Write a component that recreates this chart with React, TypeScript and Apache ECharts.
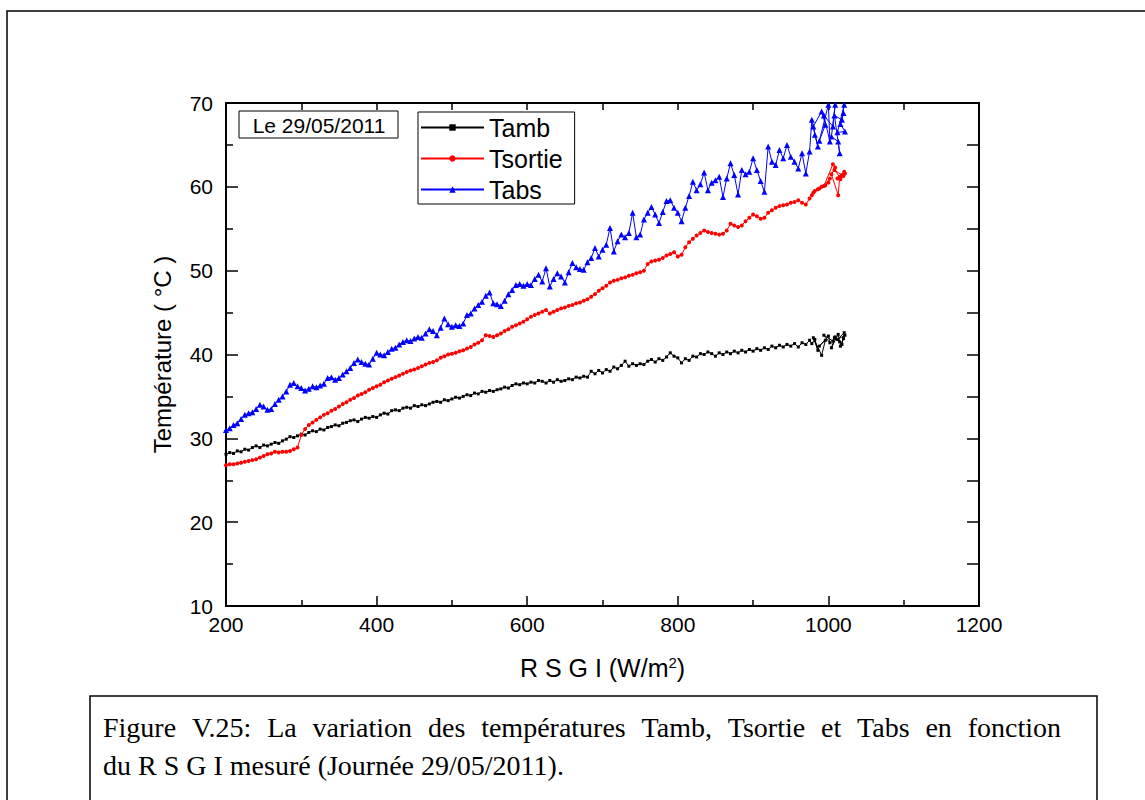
import React, { useEffect, useRef } from "react";
import * as echarts from "echarts";

// Measured global irradiance R S G I (W/m²) — shared x values
const rsgi = [
  200, 205, 210, 215, 220, 225, 230, 235, 240, 245,
  250, 255, 260, 265, 270, 275, 280, 285, 290, 295,
  300, 305, 310, 315, 320, 325, 330, 335, 340, 345,
  350, 355, 360, 365, 370, 375, 380, 385, 390, 395,
  400, 405, 410, 415, 420, 425, 430, 435, 440, 445,
  450, 455, 460, 465, 470, 475, 480, 485, 490, 495,
  500, 505, 510, 515, 520, 525, 530, 535, 540, 545,
  550, 555, 560, 565, 570, 575, 580, 585, 590, 595,
  600, 605, 610, 615, 620, 625, 630, 635, 640, 645,
  650, 655, 660, 665, 670, 675, 680, 685, 690, 695,
  700, 705, 710, 715, 720, 725, 730, 735, 740, 745,
  750, 755, 760, 765, 770, 775, 780, 785, 790, 795,
  800, 805, 810, 815, 820, 825, 830, 835, 840, 845,
  850, 855, 860, 865, 870, 875, 880, 885, 890, 895,
  900, 905, 910, 915, 920, 925, 930, 935, 940, 945,
  950, 955, 960, 965, 970, 975,
  978, 982, 986, 980, 991, 996, 988, 1000, 1002, 994, 1006,
  1009, 1004, 1013, 1015, 1008, 1018, 1021, 1012, 1022, 1016, 1020,
];

const tamb = [
  28.1, 28.3, 28.2, 28.5, 28.4, 28.7, 28.6, 28.9, 29.1, 28.9,
  29.2, 29.1, 29.3, 29.5, 29.4, 29.7, 29.9, 30.2, 30.1, 30.3,
  30.5, 30.4, 30.7, 30.9, 30.8, 31.1, 31.0, 31.3, 31.4, 31.6,
  31.5, 31.8, 31.9, 32.1, 32.2, 32.0, 32.3, 32.5, 32.4, 32.6,
  32.5, 32.8, 33.0, 32.9, 33.3, 33.4, 33.3, 33.6, 33.7, 33.6,
  33.9, 33.8, 34.0, 33.9, 34.1, 34.3, 34.4, 34.3, 34.6, 34.5,
  34.7, 34.9, 34.8, 35.0, 35.2, 35.1, 35.4, 35.3, 35.6, 35.5,
  35.7, 35.6, 35.8, 35.9, 36.1, 36.0, 36.3, 36.5, 36.4, 36.6,
  36.5, 36.7, 36.6, 36.9, 36.8, 36.6, 36.9, 36.7, 37.0, 36.8,
  36.9, 37.1, 37.0, 37.3, 37.2, 37.4, 37.3, 38.0, 37.7, 38.1,
  37.8, 38.2, 38.0, 38.5, 38.3, 38.7, 39.2, 38.6, 38.9, 38.7,
  38.9, 38.8, 39.2, 39.4, 39.1, 39.5, 39.3, 39.7, 40.2, 39.8,
  39.6, 39.0, 39.5, 39.3, 39.8, 39.7, 40.1, 40.0, 40.3, 40.1,
  39.8, 40.2, 40.0, 40.3, 40.1, 40.4, 40.2, 40.5, 40.3, 40.6,
  40.4, 40.7, 40.5, 40.8, 40.6, 41.0, 40.8, 41.1, 40.9, 41.2,
  41.0, 41.3, 40.9, 41.4, 41.2, 41.7,
  41.3, 41.8, 40.5, 42.0, 39.9, 41.7, 41.0, 42.2, 41.4, 42.3, 41.6,
  42.1, 40.8, 42.4, 41.5, 42.0, 41.2, 42.6, 41.8, 42.3, 41.0, 41.9,
];

const tsortie = [
  26.8, 26.9, 26.9, 27.0, 27.1, 27.2, 27.3, 27.4, 27.5, 27.7,
  27.9, 28.1, 28.2, 28.4, 28.3, 28.4, 28.4, 28.5, 28.7, 28.9,
  30.4, 31.1, 31.6, 31.9, 32.2, 32.5, 32.8, 33.0, 33.3, 33.5,
  33.8, 34.1, 34.3, 34.6, 34.8, 35.1, 35.3, 35.5, 35.8, 36.0,
  36.2, 36.4, 36.7, 36.9, 37.1, 37.3, 37.5, 37.7, 37.9, 38.1,
  38.2, 38.4, 38.6, 38.8, 39.0, 39.1, 39.3, 39.6, 39.8, 40.0,
  40.1, 40.2, 40.4, 40.5, 40.7, 40.9, 41.2, 41.4, 41.7, 42.3,
  42.2, 42.1, 42.3, 42.5, 42.8, 43.0, 43.3, 43.5, 43.7, 43.9,
  44.2, 44.5, 44.7, 44.9, 45.1, 45.3, 44.9, 45.1, 45.3, 45.5,
  45.6, 45.8, 45.9, 46.1, 46.2, 46.4, 46.6, 46.9, 47.2, 47.6,
  47.9, 48.2, 48.6, 48.8, 48.9, 49.1, 49.2, 49.4, 49.5, 49.7,
  49.8, 50.0, 50.8, 51.1, 51.2, 51.3, 51.5, 51.8, 52.0, 52.2,
  51.7, 51.9, 52.8, 53.4, 53.8, 54.2, 54.5, 54.8, 54.6, 54.5,
  54.4, 54.3, 54.4, 54.8, 55.6, 55.4, 55.2, 55.4, 55.9, 56.3,
  56.7, 56.5, 56.2, 56.3, 56.9, 57.2, 57.5, 57.7, 57.8, 57.9,
  58.1, 58.2, 58.4, 58.1, 57.9, 58.6,
  59.0, 59.5, 59.7, 59.3, 60.0, 60.2, 59.8, 60.5, 61.0, 60.1, 62.7,
  62.3, 61.5, 59.0, 61.2, 62.0, 61.4, 61.8, 61.0, 61.6, 60.9, 61.3,
];

const tabs = [
  31.0, 31.2, 31.6, 31.8, 32.3, 32.8, 33.0, 33.1, 33.5, 34.0,
  33.8, 33.4, 33.5, 34.1, 34.6, 35.0, 35.6, 36.4, 36.6, 36.2,
  36.0, 35.7, 35.9, 36.2, 36.1, 36.3, 36.5, 37.2, 37.3, 37.0,
  37.2, 37.6, 38.0, 38.4, 39.0, 39.4, 39.1, 38.9, 38.8, 39.5,
  40.2, 40.0, 39.9, 40.3, 40.7, 40.8, 41.2, 41.5, 41.7, 41.6,
  41.9, 42.1, 42.0, 42.5, 43.0, 42.8, 42.3, 43.2, 44.3, 43.6,
  43.3, 43.5, 43.4, 43.7, 44.7, 44.9, 45.5, 45.9, 46.3, 47.0,
  47.4, 46.1, 46.0, 45.8, 46.4, 47.2, 47.7, 48.3, 48.4, 48.2,
  48.4, 48.3, 49.0, 49.5, 48.7, 50.3, 48.1, 49.0, 49.7, 49.3,
  48.6, 49.8, 50.9, 50.4, 50.2, 50.1, 51.0, 51.5, 52.7, 51.7,
  52.5, 53.1, 55.1, 52.3, 53.5, 54.3, 54.0, 54.5, 56.9, 54.0,
  54.3, 56.1, 56.9, 57.6, 56.7, 55.7, 57.0, 58.3, 58.4, 57.5,
  56.9, 55.9, 57.5, 58.9, 60.6, 59.6, 60.3, 61.7, 59.6, 60.5,
  60.8, 61.2, 58.8, 61.0, 62.8, 61.4, 59.1, 62.0, 61.5, 61.8,
  63.4, 62.0, 60.7, 59.4, 64.8, 63.0, 62.6, 64.4, 63.4, 65.0,
  63.6, 63.0, 62.2, 64.0, 61.6, 64.2,
  68.0, 66.2, 64.8, 67.2, 69.0, 67.4, 65.5, 69.8, 65.4, 68.5, 67.2,
  69.8, 66.0, 65.4, 64.0, 68.5, 68.0, 69.8, 66.5, 66.6, 67.5, 68.8,
];

const seriesNames = ["Tamb", "Tsortie", "Tabs"];
const seriesColors = ["#000000", "#ff0000", "#0000ff"];
const dateLabel = "Le 29/05/2011";
const captionLines = [
  "Figure V.25: La variation des températures Tamb, Tsortie et Tabs en fonction",
  "du R S G I mesuré (Journée 29/05/2011).",
];

const SANS = "Liberation Sans, Arial, sans-serif";
const SERIF = "Liberation Serif, Times New Roman, serif";

// Justify one caption line (like the word processor did) between two x positions
function justifiedWords(line: string, x0: number, x1: number, y: number, fontSize: number) {
  const words = line.split(" ");
  const ctx = document.createElement("canvas").getContext("2d")!;
  ctx.font = `${fontSize}px ${SERIF}`;
  const widths = words.map((w) => ctx.measureText(w).width);
  const total = widths.reduce((a, b) => a + b, 0);
  const gap = words.length > 1 ? (x1 - x0 - total) / (words.length - 1) : 0;
  let x = x0;
  return words.map((w, i) => {
    const el = {
      type: "text", z: 11, x, y,
      style: { text: w, fontSize, fontFamily: SERIF, fill: "#000", align: "left", verticalAlign: "middle" },
    };
    x += widths[i] + gap;
    return el;
  });
}

export default function App() {
  const ref = useRef<HTMLDivElement>(null);

  useEffect(() => {
    if (!ref.current) return;
    const chart = echarts.init(ref.current, null, { renderer: "svg" });

    const axisLine = { show: true, onZero: false, lineStyle: { color: "#000", width: 2 } };
    const mkTick = (len: number) => ({ show: true, inside: true, length: len, lineStyle: { color: "#000", width: 1.5 } });
    const mkMinor = (len: number) => ({ show: true, splitNumber: 2, length: len, lineStyle: { color: "#000", width: 1.5 } });

    const toPairs = (ys: number[]) => rsgi.map((x, i) => [x, ys[i]]);

    const option: any = {
      animation: false,
      backgroundColor: "#fff",
      textStyle: { fontFamily: SANS },
      grid: { left: 226, top: 103, right: 166, bottom: 194, outerBoundsMode: "none", containLabel: false },
      xAxis: [
        {
          type: "value", position: "bottom", min: 200, max: 1200, interval: 200,
          axisLine, axisTick: mkTick(10), minorTick: mkMinor(6), splitLine: { show: false },
          axisLabel: { color: "#000", fontSize: 21, fontFamily: SANS, margin: 8, formatter: (v: number) => String(v) },
          name: "R S G I (W/m{sup|2})", nameLocation: "middle", nameGap: 49,
          nameTextStyle: {
            color: "#000", fontSize: 25, fontFamily: SANS,
            rich: { sup: { fontSize: 15, fontFamily: SANS, color: "#000", verticalAlign: "bottom", padding: [0, 0, 11, 0] } },
          },
        },
        {
          type: "value", position: "top", min: 200, max: 1200, interval: 200,
          axisLine, axisTick: mkTick(7), minorTick: mkMinor(7), splitLine: { show: false },
          axisLabel: { show: false },
        },
      ],
      yAxis: [
        {
          type: "value", position: "left", min: 10, max: 70, interval: 10,
          axisLine, axisTick: mkTick(12), minorTick: mkMinor(7), splitLine: { show: false },
          axisLabel: { color: "#000", fontSize: 21, fontFamily: SANS, margin: 13 },
          name: "Température ( °C )", nameLocation: "middle", nameGap: 52,
          nameTextStyle: { color: "#000", fontSize: 24, fontFamily: SANS },
        },
        {
          type: "value", position: "right", min: 10, max: 70, interval: 10,
          axisLine, axisTick: mkTick(12), minorTick: mkMinor(12), splitLine: { show: false },
          axisLabel: { show: false },
        },
      ],
      legend: {
        orient: "vertical", left: 418, top: 112,
        padding: [3, 12, 2, 2], itemWidth: 63, itemHeight: 8, itemGap: 6,
        borderColor: "#000", borderWidth: 1, backgroundColor: "#fff",
        textStyle: { fontSize: 25, color: "#000", fontFamily: SANS },
        data: seriesNames,
      },
      series: [
        {
          name: seriesNames[0], type: "line", data: toPairs(tamb), xAxisIndex: 0, yAxisIndex: 0,
          symbol: "rect", symbolSize: 3, color: seriesColors[0],
          lineStyle: { width: 1, color: seriesColors[0] }, itemStyle: { color: seriesColors[0] }, z: 3,
        },
        {
          name: seriesNames[1], type: "line", data: toPairs(tsortie), xAxisIndex: 0, yAxisIndex: 0,
          symbol: "circle", symbolSize: 4, color: seriesColors[1],
          lineStyle: { width: 1, color: seriesColors[1] }, itemStyle: { color: seriesColors[1] }, z: 4,
        },
        {
          name: seriesNames[2], type: "line", data: toPairs(tabs), xAxisIndex: 0, yAxisIndex: 0,
          symbol: "triangle", symbolSize: 6, color: seriesColors[2],
          lineStyle: { width: 1, color: seriesColors[2] }, itemStyle: { color: seriesColors[2] }, z: 5,
        },
      ],
      graphic: [
        {
          type: "rect", z: 0, silent: true,
          shape: { x: 7, y: 11, width: 1160, height: 820 },
          style: { fill: "none", stroke: "#000", lineWidth: 1.5 },
        },
        {
          type: "rect", z: 10,
          shape: { x: 239, y: 111, width: 159, height: 27 },
          style: { fill: "#fff", stroke: "#000", lineWidth: 1 },
        },
        {
          type: "text", z: 11, x: 319, y: 125,
          style: { text: dateLabel, fontSize: 21, fontFamily: SANS, fill: "#000", align: "center", verticalAlign: "middle" },
        },
        {
          type: "rect", z: 10,
          shape: { x: 90, y: 696, width: 1007, height: 130 },
          style: { fill: "#fff", stroke: "#000", lineWidth: 1.5 },
        },
        ...justifiedWords(captionLines[0], 103, 1061, 727, 28),
        {
          type: "text", z: 11, x: 103, y: 765,
          style: { text: captionLines[1], fontSize: 28, fontFamily: SERIF, fill: "#000", align: "left", verticalAlign: "middle" },
        },
      ],
    };

    chart.setOption(option);
    return () => chart.dispose();
  }, []);

  return (
    <div
      ref={ref}
      style={{ position: "fixed", left: 0, top: 0, width: 1145, height: 800, background: "#fff" }}
    />
  );
}
